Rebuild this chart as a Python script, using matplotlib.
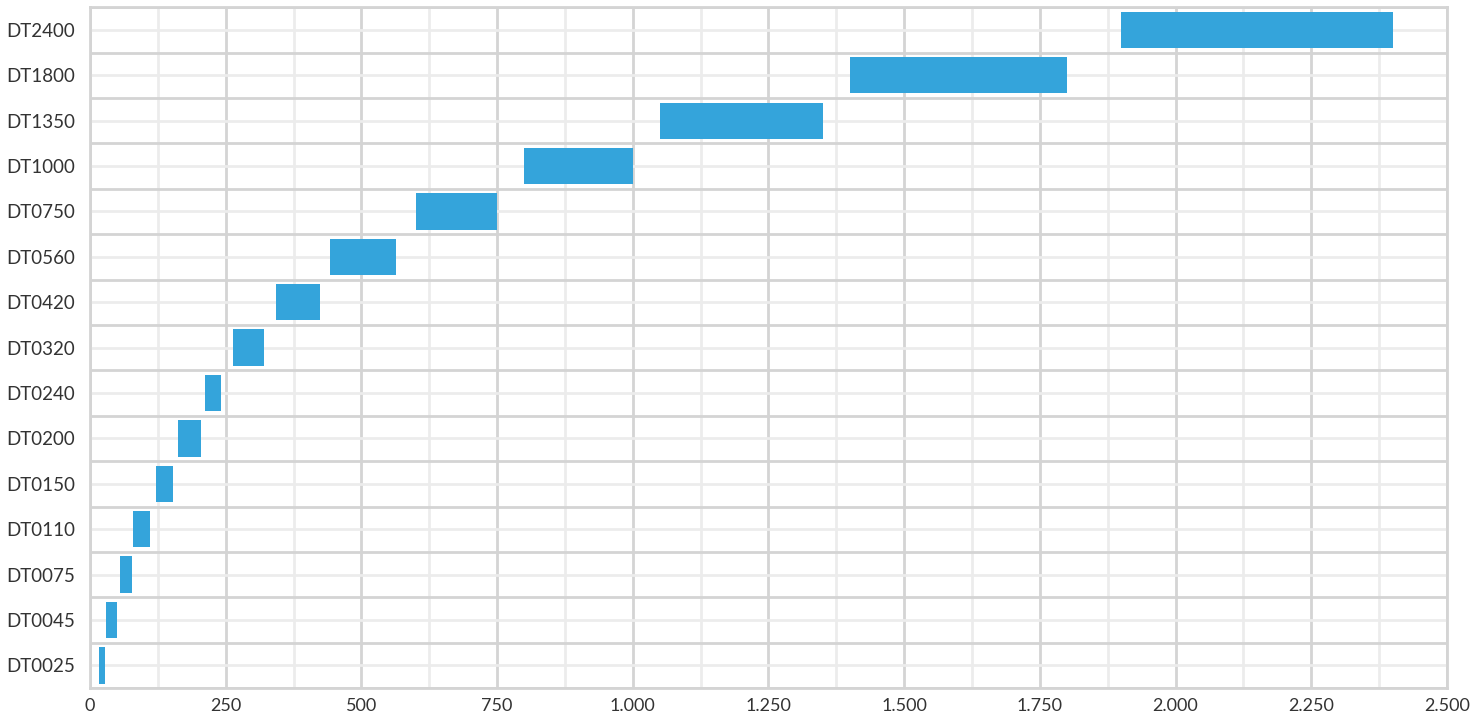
import numpy as np
import matplotlib
matplotlib.use("Agg")
import matplotlib.pyplot as plt
from matplotlib.ticker import FuncFormatter, MultipleLocator

# range per model (start, end)
models = ["DT0025", "DT0045", "DT0075", "DT0110", "DT0150", "DT0200", "DT0240",
          "DT0320", "DT0420", "DT0560", "DT0750", "DT1000", "DT1350", "DT1800", "DT2400"]
range_start = [17, 30, 55, 80, 122, 162, 212, 263, 342, 442, 600, 800, 1050, 1400, 1900]
range_end = [28, 50, 77, 110, 153, 204, 241, 320, 424, 563, 750, 1000, 1350, 1800, 2400]

bar_color = "#34a4db"
major_grid = "#d4d4d4"
minor_grid = "#ececec"
font = ["Lato", "DejaVu Sans"]

fig = plt.figure(figsize=(14.84, 7.22), dpi=100)
ax = fig.add_axes([0.0607, 0.047, 0.9143, 0.943])

y = np.arange(len(models))
widths = np.array(range_end) - np.array(range_start)
ax.barh(y, widths, left=range_start, height=0.8, color=bar_color, zorder=3)

ax.set_xlim(0, 2500)
ax.set_ylim(-0.5, len(models) - 0.5)

ax.xaxis.set_major_locator(MultipleLocator(250))
ax.xaxis.set_minor_locator(MultipleLocator(125))
ax.xaxis.set_major_formatter(FuncFormatter(lambda v, p: f"{int(v):,}".replace(",", ".")))

ax.set_yticks(y)
ax.set_yticklabels(models)
ax.set_yticks(np.arange(-0.5, len(models), 1.0), minor=True)

# category centers light, boundaries darker
ax.grid(True, axis="x", which="major", color=major_grid, lw=2, zorder=0)
ax.grid(True, axis="x", which="minor", color=minor_grid, lw=2, zorder=0)
ax.grid(True, axis="y", which="major", color=minor_grid, lw=2, zorder=0)
ax.grid(True, axis="y", which="minor", color=major_grid, lw=2, zorder=0)

ax.tick_params(axis="both", which="both", length=0)
ax.tick_params(axis="x", labelsize=13, pad=7, labelcolor="#333333")
ax.tick_params(axis="y", labelsize=13.5, pad=60, labelcolor="#333333")
for lbl in ax.get_yticklabels():
    lbl.set_horizontalalignment("left")

for s in ax.spines.values():
    s.set_color(major_grid)
    s.set_linewidth(2)

for lbl in ax.get_xticklabels() + ax.get_yticklabels():
    lbl.set_fontfamily(font)

fig.savefig("out.png", dpi=100)
